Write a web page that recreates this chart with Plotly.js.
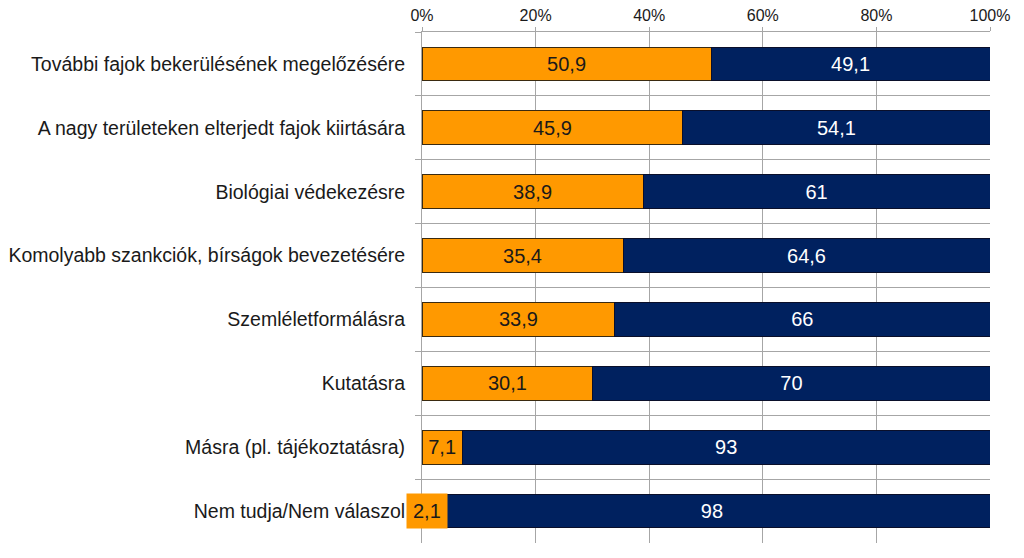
<!DOCTYPE html>
<html>
<head>
<meta charset="utf-8">
<script src="https://cdn.plot.ly/plotly-3.0.1.min.js"></script>
<style>html,body{margin:0;padding:0;background:#fff;}#chart{width:1024px;height:558px;}</style>
</head>
<body>
<div id="chart"></div>
<script>
const categories = [
  "További fajok bekerülésének megelőzésére",
  "A nagy területeken elterjedt fajok kiirtására",
  "Biológiai védekezésre",
  "Komolyabb szankciók, bírságok bevezetésére",
  "Szemléletformálásra",
  "Kutatásra",
  "Másra (pl. tájékoztatásra)",
  "Nem tudja/Nem válaszol"
];
const orangeValues = [50.9, 45.9, 38.9, 35.4, 33.9, 30.1, 7.1, 2.1];
const navyValues = [49.1, 54.1, 61, 64.6, 66, 70, 93, 98];
const xTickVals = [0, 20, 40, 60, 80, 100];
const xTickText = ["0%", "20%", "40%", "60%", "80%", "100%"];

const fmt = v => String(v).replace('.', ',');
const SMALL = 5;

const orangeText = orangeValues.map(v => v < SMALL ? '' : fmt(v));
const navyText = navyValues.map(fmt);

const font = "Liberation Sans, Arial, sans-serif";

const traces = [
  {
    type: 'bar', orientation: 'h', y: categories, x: orangeValues,
    marker: {color: '#FF9900', line: {color: '#3a2a10', width: 1}},
    text: orangeText, textposition: 'inside', insidetextanchor: 'middle',
    constraintext: 'none',
    textfont: {family: font, size: 20, color: '#1a1a1a'},
    hoverinfo: 'x+y', name: 'igen'
  },
  {
    type: 'bar', orientation: 'h', y: categories, x: navyValues,
    marker: {color: '#00215F', line: {color: '#0a0f2a', width: 1}},
    text: navyText, textposition: 'inside', insidetextanchor: 'middle',
    constraintext: 'none',
    textfont: {family: font, size: 20, color: '#ffffff'},
    hoverinfo: 'x+y', name: 'nem'
  }
];

const annotations = [];
orangeValues.forEach((v, i) => {
  if (v < SMALL) {
    annotations.push({
      x: v * 0.46, y: categories[i], xref: 'x', yref: 'y',
      text: fmt(v), showarrow: false,
      font: {family: font, size: 20, color: '#1a1a1a'},
      bgcolor: '#FF9900', borderpad: 6
    });
  }
});

const layout = {
  width: 1024, height: 558,
  margin: {l: 422, r: 34, t: 32, b: 15},
  paper_bgcolor: '#ffffff', plot_bgcolor: '#ffffff',
  barmode: 'stack', barnorm: 'percent', bargap: 0.47,
  showlegend: false,
  separators: ', ',
  xaxis: {
    side: 'top', range: [0, 100], tickvals: xTickVals, ticktext: xTickText,
    showgrid: true, gridcolor: '#a6a6a6', gridwidth: 1,
    showline: true, linecolor: '#a6a6a6', linewidth: 1,
    ticks: 'outside', ticklen: 4, tickcolor: '#a6a6a6',
    tickfont: {family: font, size: 16, color: '#1a1a1a'},
    zeroline: false, fixedrange: true, mirror: false
  },
  yaxis: {
    type: 'category', autorange: 'reversed',
    tickson: 'boundaries', ticks: 'outside', ticklen: 6, tickcolor: '#a6a6a6',
    showgrid: true, gridcolor: '#a6a6a6', gridwidth: 1,
    showline: true, linecolor: '#a6a6a6', linewidth: 1,
    tickfont: {family: font, size: 19.5, color: '#1a1a1a'},
    ticklabelstandoff: 12,
    zeroline: false, fixedrange: true
  },
  annotations: annotations,
  font: {family: font}
};

Plotly.newPlot('chart', traces, layout, {displayModeBar: false, staticPlot: true});
</script>
</body>
</html>
